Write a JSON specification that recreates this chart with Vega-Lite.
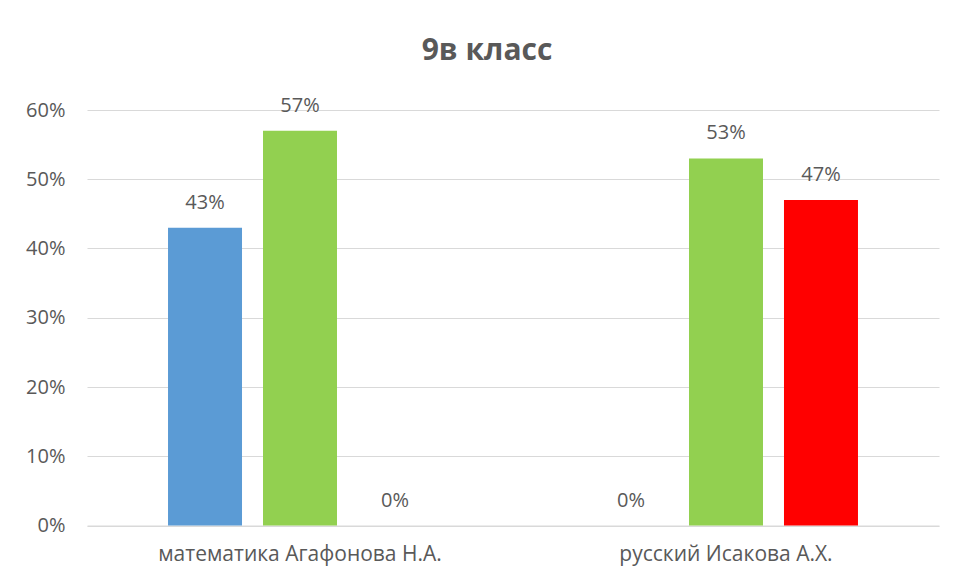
{
  "$schema": "https://vega.github.io/schema/vega-lite/v6.json",
  "autosize": "none",
  "width": 852,
  "height": 415.5,
  "padding": {"left": 87, "top": 110, "right": 19, "bottom": 54.5},
  "background": "white",
  "config": {
    "view": {"stroke": null},
    "font": "Open Sans",
    "axis": {"labelFont": "Open Sans", "labelColor": "#595959", "labelFontSize": 20}
  },
  "title": {
    "text": "9в класс",
    "font": "Open Sans",
    "fontSize": 30,
    "fontWeight": "bold",
    "color": "#595959",
    "anchor": "middle",
    "offset": 30,
    "dx": -26
  },
  "data": {
    "values": [
      {"subject": "математика Агафонова Н.А.", "series": "s1", "value": 0.43},
      {"subject": "математика Агафонова Н.А.", "series": "s2", "value": 0.57},
      {"subject": "математика Агафонова Н.А.", "series": "s3", "value": 0.0},
      {"subject": "русский Исакова А.Х.", "series": "s1", "value": 0.0},
      {"subject": "русский Исакова А.Х.", "series": "s2", "value": 0.53},
      {"subject": "русский Исакова А.Х.", "series": "s3", "value": 0.47}
    ]
  },
  "encoding": {
    "x": {
      "field": "subject",
      "type": "nominal",
      "sort": null,
      "scale": {"paddingInner": 0, "paddingOuter": 0},
      "axis": {
        "title": null,
        "labelAngle": 0,
        "labelLimit": 0,
        "ticks": false,
        "domain": true,
        "domainColor": "#d9d9d9",
        "labelPadding": 18,
        "labelFontSize": 21
      }
    },
    "xOffset": {
      "field": "series",
      "type": "nominal",
      "sort": ["s1", "s2", "s3"],
      "scale": {"paddingInner": 0.221, "paddingOuter": 0.853}
    },
    "y": {
      "field": "value",
      "type": "quantitative",
      "scale": {"domain": [0, 0.6]},
      "axis": {
        "title": null,
        "format": ".0%",
        "values": [0, 0.1, 0.2, 0.3, 0.4, 0.5, 0.6],
        "ticks": false,
        "domain": false,
        "gridColor": "#d9d9d9",
        "gridWidth": 1,
        "labelPadding": 22
      }
    }
  },
  "layer": [
    {
      "mark": {"type": "bar"},
      "encoding": {
        "color": {
          "field": "series",
          "type": "nominal",
          "scale": {"domain": ["s1", "s2", "s3"], "range": ["#5B9BD5", "#92D050", "#FF0000"]},
          "legend": null
        }
      }
    },
    {
      "mark": {"type": "text", "baseline": "middle", "dy": -25, "fontSize": 20, "color": "#595959", "font": "Open Sans"},
      "encoding": {
        "text": {"field": "value", "type": "quantitative", "format": ".0%"}
      }
    }
  ]
}
